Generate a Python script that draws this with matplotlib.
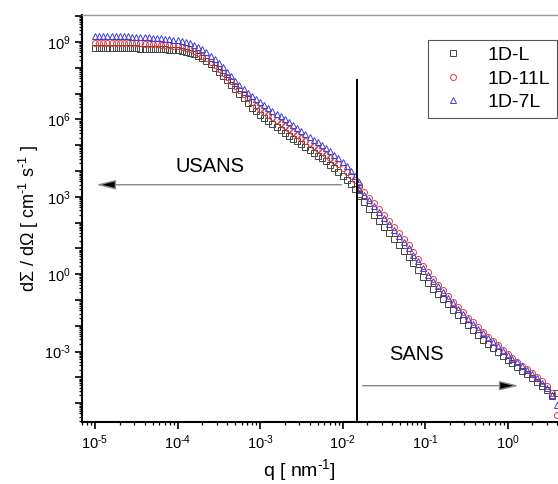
import numpy as np
import matplotlib
matplotlib.use("Agg")
import matplotlib.pyplot as plt
from matplotlib.ticker import LogLocator, FuncFormatter, NullFormatter

plt.rcParams['font.family'] = ['Liberation Sans', 'DejaVu Sans']
plt.rcParams['mathtext.fontset'] = 'custom'
plt.rcParams['mathtext.rm'] = 'Liberation Sans'
plt.rcParams['mathtext.default'] = 'regular'

# log10(q) grids for the two instruments
logq_usans = [-5.00, -4.95, -4.90, -4.85, -4.80, -4.75, -4.70, -4.65, -4.60, -4.55,
              -4.50, -4.45, -4.40, -4.35, -4.30, -4.25, -4.20, -4.15, -4.10, -4.05,
              -4.00, -3.95, -3.90, -3.85, -3.80, -3.75, -3.70, -3.65, -3.60, -3.55,
              -3.50, -3.45, -3.40, -3.35, -3.30, -3.25, -3.20, -3.15, -3.10, -3.05,
              -3.00, -2.95, -2.90, -2.85, -2.80, -2.75, -2.70, -2.65, -2.60, -2.55,
              -2.50, -2.45, -2.40, -2.35, -2.30, -2.25, -2.20, -2.15, -2.10, -2.05,
              -2.00, -1.95, -1.90, -1.85, -1.80]
logq_sans = [-1.80, -1.74, -1.68, -1.62, -1.56, -1.50, -1.44, -1.38, -1.32, -1.26,
             -1.20, -1.14, -1.08, -1.02, -0.96, -0.90, -0.84, -0.78, -0.72, -0.66,
             -0.60, -0.54, -0.48, -0.42, -0.36, -0.30, -0.24, -0.18, -0.12, -0.06,
             0.00, 0.06, 0.12, 0.18, 0.24, 0.30, 0.36, 0.42, 0.48, 0.54, 0.60]

# log10(dSigma/dOmega), USANS part
logI_L_usans = [8.77, 8.77, 8.77, 8.77, 8.77, 8.77, 8.77, 8.76, 8.76, 8.76,
                8.76, 8.75, 8.75, 8.75, 8.74, 8.74, 8.73, 8.72, 8.71, 8.69,
                8.68, 8.66, 8.63, 8.59, 8.54, 8.47, 8.38, 8.27, 8.14, 8.00,
                7.85, 7.69, 7.52, 7.35, 7.18, 7.00, 6.82, 6.64, 6.46, 6.32,
                6.19, 6.06, 5.94, 5.82, 5.70, 5.59, 5.48, 5.37, 5.26, 5.15,
                5.04, 4.93, 4.82, 4.71, 4.60, 4.49, 4.38, 4.25, 4.11, 3.96,
                3.81, 3.65, 3.49, 3.31, 3.12]
logI_11L_usans = [8.97, 8.97, 8.97, 8.97, 8.97, 8.97, 8.96, 8.96, 8.96, 8.96,
                  8.95, 8.95, 8.94, 8.93, 8.92, 8.91, 8.90, 8.89, 8.88, 8.86,
                  8.84, 8.81, 8.77, 8.72, 8.66, 8.58, 8.48, 8.37, 8.24, 8.10,
                  7.96, 7.81, 7.65, 7.48, 7.31, 7.14, 6.98, 6.82, 6.67, 6.54,
                  6.42, 6.30, 6.19, 6.08, 5.97, 5.86, 5.75, 5.64, 5.52, 5.41,
                  5.29, 5.18, 5.07, 4.97, 4.86, 4.75, 4.64, 4.52, 4.39, 4.26,
                  4.12, 3.97, 3.82, 3.65, 3.47]
logI_7L_usans = [9.23, 9.23, 9.23, 9.23, 9.23, 9.22, 9.22, 9.22, 9.22, 9.21,
                 9.21, 9.20, 9.19, 9.18, 9.17, 9.16, 9.15, 9.13, 9.12, 9.10,
                 9.08, 9.05, 9.01, 8.96, 8.90, 8.82, 8.72, 8.60, 8.47, 8.33,
                 8.18, 8.02, 7.85, 7.68, 7.51, 7.35, 7.19, 7.04, 6.91, 6.79,
                 6.67, 6.56, 6.45, 6.34, 6.23, 6.12, 6.01, 5.90, 5.78, 5.67,
                 5.55, 5.44, 5.33, 5.22, 5.11, 5.00, 4.89, 4.77, 4.64, 4.50,
                 4.35, 4.18, 4.00, 3.80, 3.59]

# log10(dSigma/dOmega), SANS part
logI_L_sans = [3.05, 2.80, 2.52, 2.30, 2.07, 1.84, 1.61, 1.38, 1.15, 0.91,
               0.67, 0.42, 0.17, -0.09, -0.34, -0.56, -0.76, -0.96, -1.17, -1.38,
               -1.58, -1.78, -1.97, -2.16, -2.35, -2.53, -2.70, -2.86, -3.02, -3.17,
               -3.32, -3.46, -3.60, -3.74, -3.88, -4.02, -4.16, -4.32, -4.50, -4.72, -4.60]
logI_11L_sans = [3.38, 3.17, 2.96, 2.75, 2.52, 2.30, 2.07, 1.83, 1.60, 1.36,
                 1.12, 0.86, 0.60, 0.33, 0.07, -0.18, -0.40, -0.62, -0.84, -1.06,
                 -1.28, -1.48, -1.68, -1.87, -2.06, -2.24, -2.42, -2.59, -2.76, -2.92,
                 -3.08, -3.24, -3.39, -3.54, -3.69, -3.84, -3.99, -4.15, -4.35, -4.62, -5.45]
logI_7L_sans = [3.30, 3.08, 2.86, 2.64, 2.42, 2.19, 1.96, 1.72, 1.49, 1.25,
                1.01, 0.76, 0.50, 0.24, -0.02, -0.26, -0.47, -0.69, -0.91, -1.12,
                -1.33, -1.53, -1.73, -1.92, -2.11, -2.29, -2.47, -2.64, -2.80, -2.96,
                -3.12, -3.27, -3.42, -3.57, -3.71, -3.86, -4.02, -4.20, -4.42, -4.70, -5.05]

labels = ['1D-L', '1D-11L', '1D-7L']
colors = ['#444444', '#e03c3c', '#3c3cdc']
markers = ['s', 'o', '^']

fig = plt.figure(figsize=(5.58, 4.84), dpi=100)
ax = fig.add_axes([0.147, 0.128, 0.853, 0.841])

series = [(logI_L_usans, logI_L_sans), (logI_11L_usans, logI_11L_sans), (logI_7L_usans, logI_7L_sans)]
for (iu, isans), lab, c, m in zip(series, labels, colors, markers):
    q = 10 ** np.concatenate([logq_usans, logq_sans])
    I = 10 ** np.concatenate([iu, isans])
    ax.plot(q, I, linestyle='none', marker=m, markersize=4.3, markerfacecolor='none',
            markeredgecolor=c, markeredgewidth=0.7, label=lab)

ax.set_xscale('log')
ax.set_yscale('log')
ax.set_xlim(10 ** -5.158, 10 ** 0.612)
ax.set_ylim(10 ** -5.73, 10 ** 10.05)

# boundary between USANS and SANS
ax.plot([10 ** -1.82, 10 ** -1.82], [10 ** 7.53, 10 ** -5.73], color='black', lw=1.4)
arrow_style = dict(arrowstyle='-|>,head_length=0.9,head_width=0.22', ec='#888888', fc='black',
                   lw=1.0, mutation_scale=13)
ax.annotate('', xy=(10 ** -5.02, 10 ** 3.47), xytext=(10 ** -1.98, 10 ** 3.47), arrowprops=arrow_style)
ax.annotate('', xy=(10 ** 0.17, 10 ** -4.32), xytext=(10 ** -1.79, 10 ** -4.32), arrowprops=arrow_style)
ax.text(10 ** -3.61, 10 ** 4.19, 'USANS', ha='center', va='center', fontsize=14.5)
ax.text(10 ** -1.10, 10 ** -3.13, 'SANS', ha='center', va='center', fontsize=14.5)

# ticks
ax.xaxis.set_major_locator(LogLocator(base=10, numticks=20))
ax.xaxis.set_minor_locator(LogLocator(base=10, subs=np.arange(2, 10), numticks=20))
ax.xaxis.set_minor_formatter(NullFormatter())
ax.yaxis.set_major_locator(LogLocator(base=10, subs=(1.0,), numticks=30))
ax.yaxis.set_minor_locator(LogLocator(base=10, subs=np.arange(2, 10), numticks=30))
ax.yaxis.set_minor_formatter(NullFormatter())


def xlab(v, pos):
    e = int(round(np.log10(v)))
    return r'$10^{\text{%d}}$' % e


def ylab(v, pos):
    e = int(round(np.log10(v)))
    return r'$10^{\text{%d}}$' % e if e % 3 == 0 else ''


ax.xaxis.set_major_formatter(FuncFormatter(xlab))
ax.yaxis.set_major_formatter(FuncFormatter(ylab))
ax.tick_params(which='major', direction='out', length=5, width=1.2, labelsize=10.5)
ax.tick_params(which='minor', direction='out', length=2.5, width=0.9)
ax.tick_params(axis='x', pad=3)
ax.tick_params(axis='y', pad=3)

for s in ['left', 'bottom']:
    ax.spines[s].set_linewidth(1.5)
ax.spines['top'].set_color('#999999')
ax.spines['top'].set_linewidth(1.0)
ax.spines['right'].set_visible(False)

ax.set_xlabel(r'q [ nm$^{\text{-1}}$]', fontsize=14)
ax.xaxis.set_label_coords((299 - 82) / 476, -0.085)
ax.set_ylabel(r'd$\Sigma$ / d$\Omega$ [ cm$^{\text{-1}}$ s$^{\text{-1}}$ ]', fontsize=13, labelpad=2)

leg = ax.legend(loc='upper right', bbox_to_anchor=(0.998, 0.939), borderaxespad=0,
                fontsize=14, markerscale=1.0,
                handlelength=1.8, handletextpad=0.9, borderpad=0.35, labelspacing=0.3,
                fancybox=False, framealpha=1)
leg.get_frame().set_edgecolor('#555555')
leg.get_frame().set_linewidth(0.8)

fig.savefig('out.png', dpi=100)
